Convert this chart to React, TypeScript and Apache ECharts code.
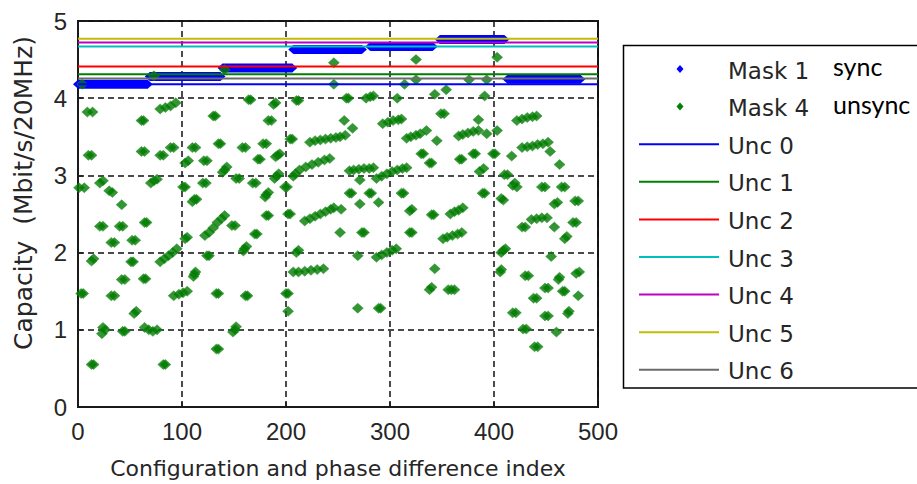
import React, { useEffect, useRef } from "react";
import * as echarts from "echarts";

// Mask 4 (unsync): [index, capacity]
const unsyncPoints: [number, number][] = [
  [1, 2.84], [6, 2.84], [3, 1.47], [5, 1.47], [4, 4.18], [9, 3.82], [14, 3.82],
  [10, 3.26], [13, 3.26], [13, 0.55], [15, 0.55], [13, 1.89], [15, 1.92],
  [21, 2.9], [24, 2.93], [30, 2.8], [33, 2.78], [21, 2.34], [24, 2.34],
  [24, 1.03], [23, 0.95], [26, 1.0], [32, 1.44], [35, 1.44], [32, 2.13], [35, 2.13],
  [40, 2.34], [43, 2.34], [42, 2.62], [42, 1.65], [45, 1.65], [43, 0.98], [45, 0.98],
  [51, 1.88], [53, 1.88], [52, 2.16], [55, 2.16], [54, 1.21], [56, 1.24],
  [61, 3.71], [63, 3.71], [61, 3.31], [64, 3.31], [63, 1.66], [65, 1.66],
  [64, 2.39], [66, 2.39], [64, 1.03], [68, 1.0], [72, 0.98], [76, 1.0],
  [70, 2.9], [73, 2.93], [76, 2.95], [73, 4.29], [79, 3.26], [82, 3.26],
  [79, 3.86], [84, 3.88], [89, 3.9], [94, 3.94],
  [79, 1.88], [83, 1.92], [87, 1.96], [91, 2.0], [95, 2.05], [82, 0.55], [84, 0.55],
  [89, 3.36], [92, 3.36], [92, 1.44], [97, 1.46], [101, 1.48], [105, 1.5],
  [101, 2.85], [103, 2.85], [103, 2.18], [105, 2.2], [103, 3.16], [106, 3.19],
  [110, 3.36], [113, 3.36], [110, 2.66], [112, 2.69], [114, 2.69],
  [111, 1.69], [112, 1.72], [113, 1.75], [120, 2.9], [123, 2.9], [121, 3.19], [124, 3.19],
  [124, 1.96], [126, 1.96], [122, 2.22], [126, 2.26], [130, 2.32], [134, 2.39], [138, 2.44], [141, 2.48],
  [130, 3.77], [132, 3.77], [133, 1.47], [135, 1.47], [133, 0.75], [135, 0.75],
  [135, 3.41], [137, 3.41], [139, 3.04], [141, 3.07], [143, 3.11], [141, 4.37],
  [148, 2.35], [151, 2.35], [149, 0.97], [151, 1.0], [152, 1.04], [152, 2.96], [155, 2.96],
  [158, 3.36], [161, 3.36], [159, 2.02], [160, 2.05], [162, 2.08], [161, 1.44], [163, 1.44],
  [164, 3.98], [166, 3.98], [168, 2.9], [171, 2.9], [170, 2.24], [172, 2.24],
  [173, 3.21], [175, 3.21], [178, 3.41], [181, 3.41], [180, 2.72], [181, 2.75], [183, 2.78],
  [181, 2.48], [183, 2.48], [183, 3.71], [186, 3.71], [188, 3.92], [190, 3.94],
  [189, 2.96], [191, 2.99], [193, 3.02], [190, 3.24], [192, 3.26], [194, 3.28],
  [199, 2.85], [201, 2.85], [200, 1.47], [202, 1.47], [202, 1.24], [202, 2.5], [204, 2.5],
  [204, 3.47], [206, 3.47], [207, 2.99], [209, 3.02], [210, 3.97], [212, 3.97],
  [210, 2.0], [212, 2.03],
  [207, 1.75], [212, 1.75], [218, 1.76], [224, 1.77], [230, 1.78], [236, 1.79],
  [213, 3.07], [219, 3.11], [225, 3.14], [231, 3.17], [237, 3.2], [242, 3.22],
  [218, 2.41], [223, 2.44], [228, 2.47], [233, 2.5], [238, 2.53], [243, 2.56], [246, 2.58],
  [223, 3.43], [228, 3.45], [233, 3.46], [238, 3.47], [243, 3.48], [248, 3.49], [252, 3.5],
  [246, 4.46], [246, 4.18], [252, 2.26], [256, 3.71], [257, 3.52], [253, 2.56],
  [258, 4.0], [260, 4.0],
  [261, 3.06], [265, 3.07], [270, 3.08], [275, 3.09], [280, 3.09], [284, 3.1],
  [271, 2.94], [261, 2.77], [263, 2.77], [280, 2.77], [282, 2.77], [264, 3.61],
  [271, 2.63], [289, 2.65], [273, 2.26], [275, 2.26], [269, 1.96], [269, 1.28],
  [277, 4.0], [281, 4.02], [284, 4.03],
  [287, 2.96], [292, 2.99], [297, 3.02], [302, 3.05], [307, 3.07], [312, 3.09], [316, 3.1],
  [287, 1.94], [292, 1.97], [297, 2.0], [302, 2.03], [306, 2.05], [289, 1.28], [291, 1.28],
  [293, 3.67], [298, 3.69], [303, 3.71], [308, 3.72], [311, 3.73], [307, 4.0],
  [311, 2.77], [313, 2.77], [314, 4.18],
  [316, 3.48], [320, 3.5], [325, 3.52], [329, 3.54], [319, 2.54], [321, 2.56],
  [319, 2.26], [321, 2.26], [325, 4.5], [325, 4.24], [330, 3.28], [332, 3.28], [335, 3.58],
  [338, 3.16], [340, 3.16], [338, 1.52], [340, 1.55], [340, 2.49], [342, 2.49],
  [343, 1.79], [343, 4.05], [345, 3.45], [349, 3.8], [352, 3.8],
  [351, 2.18], [355, 2.2], [360, 2.22], [365, 2.24], [369, 2.26], [354, 4.11],
  [356, 1.52], [359, 1.52], [362, 1.52],
  [358, 2.5], [362, 2.53], [366, 2.55], [370, 2.58],
  [366, 3.51], [370, 3.53], [375, 3.55], [380, 3.57], [385, 3.58],
  [367, 3.21], [369, 3.21], [376, 4.24], [380, 3.28], [382, 3.28], [385, 3.72],
  [386, 3.05], [390, 3.09], [389, 2.77], [391, 2.77], [391, 4.03], [393, 4.24], [393, 3.54],
  [399, 3.28], [401, 3.28], [403, 3.58], [403, 4.53], [406, 1.75], [407, 1.78],
  [407, 2.7], [409, 2.68], [407, 2.0], [409, 2.03], [411, 2.05], [410, 3.01], [413, 3.01],
  [417, 3.25], [418, 2.87], [420, 2.9], [422, 2.85], [418, 1.22], [421, 1.22],
  [422, 3.71], [427, 3.73], [432, 3.75], [437, 3.76], [441, 3.77],
  [427, 3.36], [432, 3.37], [437, 3.38], [442, 3.4], [447, 3.41], [452, 3.43],
  [427, 2.33], [430, 2.33], [428, 1.01], [431, 1.01], [430, 1.7], [433, 1.7],
  [436, 2.43], [441, 2.44], [446, 2.45], [451, 2.45], [438, 1.41], [441, 1.41],
  [439, 0.78], [442, 0.78], [446, 2.85], [449, 2.85], [449, 1.54], [452, 1.54],
  [449, 1.18], [452, 1.18], [454, 3.31], [455, 1.95], [458, 2.63], [461, 2.65],
  [458, 2.33], [460, 0.97], [462, 1.65], [463, 1.68], [463, 3.14], [465, 2.85], [468, 2.85],
  [466, 1.5], [468, 1.5], [468, 2.18], [470, 2.21], [471, 1.21], [472, 1.24],
  [476, 2.39], [479, 2.39], [478, 2.67], [481, 2.67], [479, 1.73], [482, 1.75], [481, 1.44],
];

// Mask 1 (sync): runs of nearly constant capacity over index ranges
const syncRunStart = [0, 69, 139, 207, 281, 348, 413];
const syncRunEnd = [67, 137, 206, 273, 341, 410, 483];
const syncRunLevel = [4.18, 4.28, 4.39, 4.63, 4.67, 4.76, 4.245];

// Uncoordinated reference levels
const uncNames = ["Unc 0", "Unc 1", "Unc 2", "Unc 3", "Unc 4", "Unc 5", "Unc 6"];
const uncLevels = [4.18, 4.31, 4.41, 4.67, 4.72, 4.77, 4.255];
const uncColors = ["#0000ff", "#008000", "#ff0000", "#00bfbf", "#bf00bf", "#bfbf00", "#6b6b6b"];

const xMin = 0;
const xMax = 500;
const xStep = 100;
const yMin = 0;
const yMax = 5;
const yStep = 1;

const TICK_FONT = "'Liberation Sans', Arial, sans-serif";
const LABEL_FONT = "'DejaVu Sans', Verdana, sans-serif";

export default function App() {
  const ref = useRef<HTMLDivElement>(null);

  useEffect(() => {
    if (!ref.current) return;
    const chart = echarts.init(ref.current, undefined, { renderer: "svg" });

    const syncSeries = syncRunStart.map((s, i) => ({
      name: "Mask 1",
      type: "line",
      data: [
        [s, syncRunLevel[i]],
        [syncRunEnd[i], syncRunLevel[i]],
      ],
      symbol: "diamond",
      symbolSize: [10, 9],
      showSymbol: true,
      itemStyle: { color: "#0000ff" },
      lineStyle: { color: "#0000ff", width: 9 },
      z: 2,
      silent: true,
    }));

    const uncSeries = uncNames.map((n, i) => ({
      name: n,
      type: "line",
      data: [
        [xMin, uncLevels[i]],
        [xMax, uncLevels[i]],
      ],
      symbol: "none",
      lineStyle: { color: uncColors[i], width: 2 },
      z: 4,
      silent: true,
    }));

    const legendTop = 69;
    const legendStep = 37.6;
    const legendGraphics: any[] = [
      {
        type: "rect",
        shape: { x: 623.5, y: 45.5, width: 330, height: 342.5 },
        style: { fill: "#ffffff", stroke: "#000000", lineWidth: 1.5 },
        z: 10,
      },
    ];
    const diamond = (cx: number, cy: number, color: string) => ({
      type: "polygon",
      shape: {
        points: [
          [cx, cy - 4],
          [cx + 3.5, cy],
          [cx, cy + 4],
          [cx - 3.5, cy],
        ],
      },
      style: { fill: color },
      z: 11,
    });
    const legText = (txt: string, y: number) => ({
      type: "text",
      x: 728,
      y: y + 1.5,
      style: {
        text: txt,
        font: `23px ${LABEL_FONT}`,
        fill: "#262626",
        textAlign: "left",
        textVerticalAlign: "middle",
      },
      z: 11,
    });
    legendGraphics.push(diamond(680, legendTop, "#0000ff"));
    legendGraphics.push(legText("Mask 1", legendTop));
    legendGraphics.push(diamond(680, legendTop + legendStep, "#008000"));
    legendGraphics.push(legText("Mask 4", legendTop + legendStep));
    uncNames.forEach((n, i) => {
      const y = legendTop + legendStep * (i + 2);
      legendGraphics.push({
        type: "line",
        shape: { x1: 639, y1: y, x2: 719, y2: y },
        style: { stroke: uncColors[i], lineWidth: 2 },
        z: 11,
      });
      legendGraphics.push(legText(n, y));
    });
    legendGraphics.push({
      type: "text",
      x: 833,
      y: 66,
      style: {
        text: "sync",
        font: `25px Lato, 'Open Sans', sans-serif`,
        fill: "#000000",
        textAlign: "left",
        textVerticalAlign: "middle",
      },
      z: 12,
    });
    legendGraphics.push({
      type: "text",
      x: 833,
      y: 104,
      style: {
        text: "unsync",
        font: `25px Lato, 'Open Sans', sans-serif`,
        fill: "#000000",
        textAlign: "left",
        textVerticalAlign: "middle",
      },
      z: 12,
    });
    legendGraphics.push({
      type: "text",
      x: 23,
      y: 193,
      rotation: Math.PI / 2,
      style: {
        text: "Capacity  (Mbit/s/20MHz)",
        font: `25px ${LABEL_FONT}`,
        fill: "#262626",
        textAlign: "center",
        textVerticalAlign: "middle",
      },
      z: 12,
    });

    const option: any = {
      animation: false,
      backgroundColor: "#ffffff",
      grid: {
        left: 78,
        top: 21,
        width: 520,
        height: 391,
        show: true,
        borderColor: "#1a1a1a",
        borderWidth: 2,
        backgroundColor: "transparent",
      },
      xAxis: {
        type: "value",
        min: xMin,
        max: xMax,
        interval: xStep,
        name: "Configuration and phase difference index",
        nameLocation: "middle",
        nameGap: 50,
        nameTextStyle: { fontFamily: LABEL_FONT, fontSize: 22, color: "#262626" },
        axisLine: { show: true, onZero: false, lineStyle: { color: "#1a1a1a", width: 2 } },
        axisTick: { show: true, inside: true, length: 5, lineStyle: { color: "#1a1a1a", width: 1.5 } },
        axisLabel: { fontFamily: TICK_FONT, fontSize: 24, color: "#262626", margin: 12 },
        splitLine: { show: true, lineStyle: { color: "#111111", width: 1.5, type: [6, 4] } },
      },
      yAxis: {
        type: "value",
        min: yMin,
        max: yMax,
        interval: yStep,
        axisLine: { show: true, onZero: false, lineStyle: { color: "#1a1a1a", width: 2 } },
        axisTick: { show: true, inside: true, length: 5, lineStyle: { color: "#1a1a1a", width: 1.5 } },
        axisLabel: { fontFamily: TICK_FONT, fontSize: 24, color: "#262626", margin: 11 },
        splitLine: { show: true, lineStyle: { color: "#111111", width: 1.5, type: [6, 4] } },
      },
      graphic: legendGraphics,
      series: [
        ...syncSeries,
        {
          name: "Mask 4",
          type: "scatter",
          data: unsyncPoints,
          symbol: "diamond",
          symbolSize: [11, 10],
          itemStyle: { color: "#007a00", borderColor: "#1f8f1f", borderWidth: 0.6 },
          z: 3,
          silent: true,
        },
        ...uncSeries,
      ],
    };
    chart.setOption(option);
    return () => chart.dispose();
  }, []);

  return (
    <div
      ref={ref}
      style={{ position: "absolute", left: 0, top: 0, width: 917, height: 484, background: "#fff" }}
    />
  );
}
